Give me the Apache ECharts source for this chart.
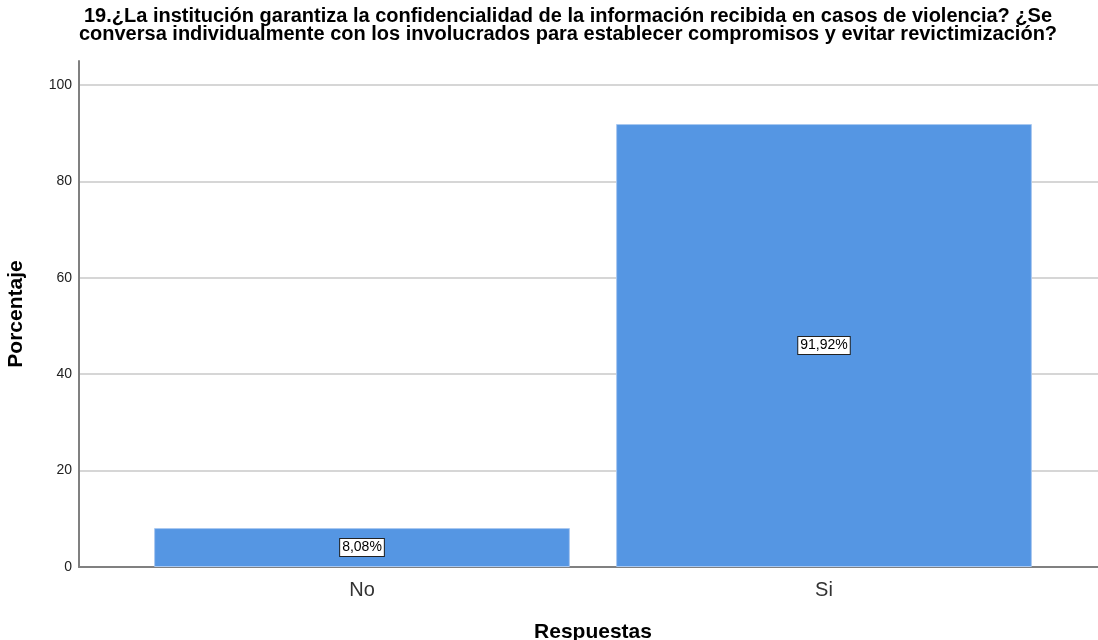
<!DOCTYPE html>
<html>
<head>
<meta charset="utf-8">
<script src="https://cdn.jsdelivr.net/npm/echarts@6/dist/echarts.min.js"></script>
<style>html,body{margin:0;padding:0;background:#fff}#c{width:1098px;height:640px}</style>
</head>
<body>
<div id="c"></div>
<script>
const titleLines = [
  "19.¿La institución garantiza la confidencialidad de la información recibida en casos de violencia? ¿Se",
  "conversa individualmente con los involucrados para establecer compromisos y evitar revictimización?"
];
const categories = ["No", "Si"];
const percentages = [8.08, 91.92];
const yTicks = [0, 20, 40, 60, 80, 100];
const yAxisName = "Porcentaje";
const xAxisName = "Respuestas";

const chart = echarts.init(document.getElementById('c'), null, {renderer: 'canvas'});
const font = "'Liberation Sans', Arial, sans-serif";

chart.setOption({
  animation: false,
  backgroundColor: '#ffffff',
  title: {
    text: titleLines.join('\n'),
    left: 563, top: 2, textAlign: 'center',
    textStyle: {fontFamily: font, fontSize: 20, fontWeight: 'bold', color: '#000', lineHeight: 18}
  },
  grid: [
    {left: 79, right: 0, top: 61, bottom: 73, outerBoundsMode: 'none', containLabel: false},
    {left: 131, right: 43, top: 61, bottom: 73, outerBoundsMode: 'none', containLabel: false}
  ],
  xAxis: [
    {gridIndex: 0, type: 'value', min: 0, max: 1, show: true,
     axisLine: {show: true, onZero: false, lineStyle: {color: '#808080', width: 2}},
     axisTick: {show: false}, axisLabel: {show: false}, splitLine: {show: false}},
    {gridIndex: 1, type: 'category', data: categories,
     name: xAxisName, nameLocation: 'middle', nameGap: 55,
     nameTextStyle: {fontFamily: font, fontSize: 21, fontWeight: 'bold', color: '#000'},
     axisLine: {show: false}, axisTick: {show: false},
     axisLabel: {margin: 13, fontFamily: font, fontSize: 20, color: '#333'}}
  ],
  yAxis: [
    {gridIndex: 0, type: 'value', min: 0, max: 105, interval: 20,
     name: yAxisName, nameLocation: 'middle', nameGap: 52,
     nameTextStyle: {fontFamily: font, fontSize: 21, fontWeight: 'bold', color: '#000'},
     axisLine: {show: true, lineStyle: {color: '#808080', width: 2}},
     axisTick: {show: false},
     axisLabel: {margin: 7, showMaxLabel: false, fontFamily: font, fontSize: 14, color: '#222',
                 formatter: v => yTicks.includes(v) ? String(v) : ''},
     splitLine: {show: true, showMinLine: false, showMaxLine: false,
                 lineStyle: {color: '#d6d6d6', width: 2}}},
    {gridIndex: 1, type: 'value', min: 0, max: 105, show: false}
  ],
  series: [
    {type: 'bar', xAxisIndex: 1, yAxisIndex: 1, data: percentages, barWidth: '90%',
     itemStyle: {color: '#5596e3', borderColor: '#a9c8f0', borderWidth: 1},
     label: {show: true, position: 'inside', formatter: p => p.value.toFixed(2).replace('.', ',') + '%',
       fontFamily: font, fontSize: 14, color: '#000', backgroundColor: '#fff',
       borderColor: '#222', borderWidth: 1, padding: [2, 2, 1, 2]},
     z: 3}
  ]
});
</script>
</body>
</html>
